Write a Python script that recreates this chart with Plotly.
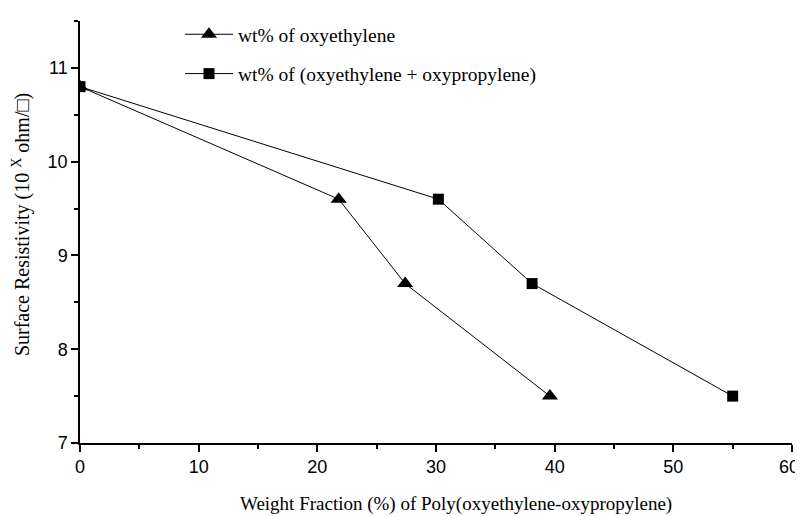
import plotly.graph_objects as go

x_oe = [0, 21.8, 27.4, 39.6]
y_oe = [10.8, 9.6, 8.7, 7.5]
x_oeop = [0, 30.2, 38.1, 55.0]
y_oeop = [10.8, 9.6, 8.7, 7.5]
name_oe = "wt% of oxyethylene"
name_oeop = "wt% of (oxyethylene + oxypropylene)"
x_title = "Weight Fraction (%) of Poly(oxyethylene-oxypropylene)"
y_title = "Surface Resistivity (10 <sup>X</sup> ohm/□)"
x_ticks = [0, 10, 20, 30, 40, 50, 60]
y_ticks = [7, 8, 9, 10, 11]

# page body has an 8px margin; figure coords = window coords - 8
OFF = 8
W, H = 803 - OFF, 516 - OFF
L, R, T, B = 80 - OFF, 11, 15 - OFF, 73
pw, ph = W - L - R, H - T - B


def px(xw):
    return (xw - OFF - L) / pw


def py(yw):
    return 1 - (yw - OFF - T) / ph


fig = go.Figure()
fig.add_trace(go.Scatter(x=x_oe, y=y_oe, name=name_oe, mode="lines+markers",
                         legendgroup="a",
                         line=dict(color="black", width=1),
                         marker=dict(symbol="triangle-up", size=14, color="black")))
fig.add_trace(go.Scatter(x=x_oeop, y=y_oeop, name=name_oeop, mode="lines+markers",
                         legendgroup="b",
                         line=dict(color="black", width=1),
                         marker=dict(symbol="square", size=11, color="black")))

sans = "Liberation Sans, Arial"
serif = "Liberation Serif, Times New Roman"
axis_common = dict(showline=True, linecolor="black", linewidth=1.5, ticks="outside",
                   ticklen=7, tickwidth=1.5, tickcolor="black", showgrid=False,
                   zeroline=False, mirror=False, automargin=False,
                   tickfont=dict(family=sans, size=18, color="black"))

# last x tick label would be clipped at the page edge: draw it right-aligned
x_ticktext = [str(v) for v in x_ticks[:-1]] + [""]

fig.update_layout(
    width=W, height=H,
    margin=dict(l=L, r=R, t=T, b=B),
    paper_bgcolor="white", plot_bgcolor="white",
    showlegend=True,
    legend=dict(x=px(180), y=py(9), xanchor="left", yanchor="top",
                font=dict(family=serif, size=19.5, color="black"),
                itemwidth=48,
                bgcolor="rgba(0,0,0,0)", tracegroupgap=11, traceorder="grouped"),
    xaxis=dict(range=[0, 60], tickvals=x_ticks, ticktext=x_ticktext,
               minor=dict(dtick=5, ticks="outside", ticklen=4, tickcolor="black", tickwidth=1.5),
               **axis_common),
    yaxis=dict(range=[7, 11.5], tickvals=y_ticks,
               minor=dict(dtick=0.5, ticks="outside", ticklen=4, tickcolor="black", tickwidth=1.5),
               **axis_common),
    annotations=[
        dict(text=str(x_ticks[-1]), xref="x", yref="paper", x=x_ticks[-1], y=py(467),
             xanchor="right", yanchor="middle", xshift=9, showarrow=False,
             font=dict(family=sans, size=18, color="black")),
        dict(text=x_title, xref="paper", yref="paper", x=px(456), y=py(505),
             xanchor="center", yanchor="middle", showarrow=False,
             font=dict(family=serif, size=19, color="black")),
        dict(text=y_title, xref="paper", yref="paper", x=px(21), y=py(222),
             xanchor="center", yanchor="middle", showarrow=False, textangle=-90,
             font=dict(family=serif, size=20, color="black")),
    ],
)

fig.write_html("out.html")
